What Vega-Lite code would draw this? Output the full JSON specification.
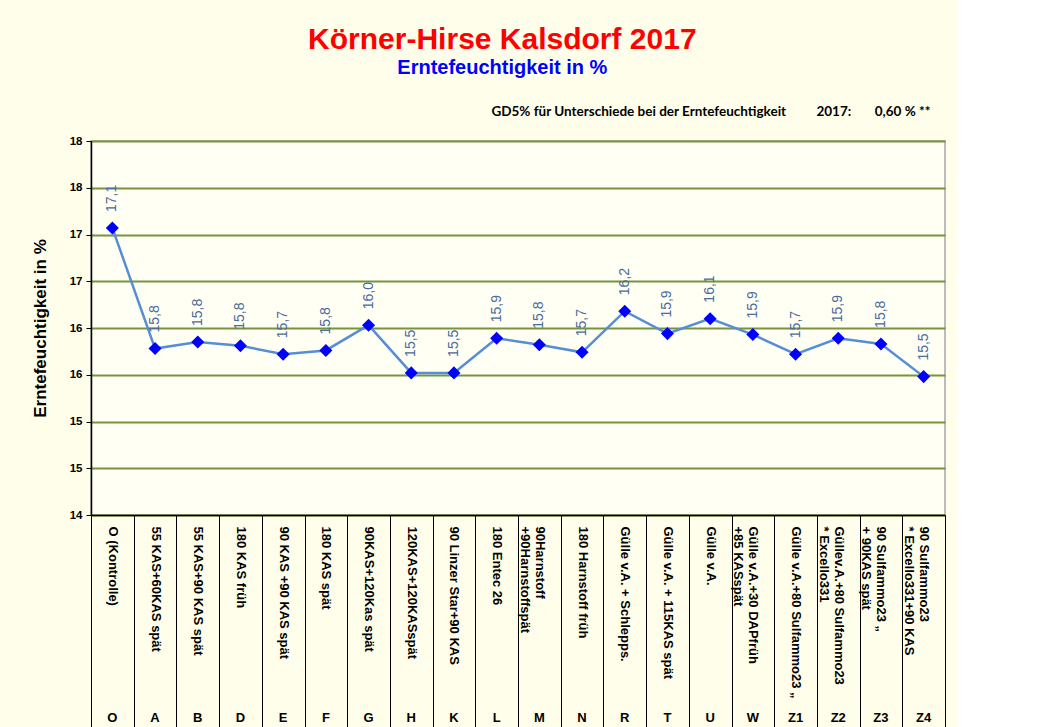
{
  "$schema": "https://vega.github.io/schema/vega-lite/v6.json",
  "background": "#fefeea",
  "padding": {"left": 30, "top": 24, "right": 10, "bottom": 0},
  "title": {
    "text": "Körner-Hirse Kalsdorf 2017",
    "subtitle": "Erntefeuchtigkeit in %",
    "color": "#ff0000",
    "subtitleColor": "#0000ff",
    "font": "Liberation Sans",
    "subtitleFont": "Liberation Sans",
    "fontSize": 30,
    "subtitleFontSize": 20,
    "fontWeight": "bold",
    "subtitleFontWeight": "bold",
    "anchor": "middle",
    "subtitlePadding": 3,
    "offset": 26,
    "dx": 14
  },
  "vconcat": [
    {
      "width": 854,
      "height": 374,
      "title": {
        "text": "GD5% für Unterschiede bei der Erntefeuchtigkeit\u2002\u2002\u2002\u2002 2017:\u2002\u2002\u2002 0,60 % **",
        "anchor": "end",
        "font": "Lato",
        "fontSize": 13.5,
        "fontWeight": "bold",
        "color": "#000000",
        "dx": -15,
        "offset": 17
      },
      "data": {
        "values": [
          {"code": "O", "name": "O (Kontrolle)", "value": 17.07},
          {"code": "A", "name": "55 KAS+60KAS spät", "value": 15.78},
          {"code": "B", "name": "55 KAS+90 KAS spät", "value": 15.85},
          {"code": "D", "name": "180 KAS früh", "value": 15.81},
          {"code": "E", "name": "90 KAS +90 KAS spät", "value": 15.72},
          {"code": "F", "name": "180 KAS spät", "value": 15.76},
          {"code": "G", "name": "90KAS+120Kas spät", "value": 16.03},
          {"code": "H", "name": "120KAS+120KASspät", "value": 15.52},
          {"code": "K", "name": "90 Linzer Star+90 KAS", "value": 15.52},
          {"code": "L", "name": "180 Entec 26", "value": 15.89},
          {"code": "M", "name": "\u00a0\u00a0\u00a0\u00a0\u00a0\u00a090Harnstoff\n+90Harnstoffspät", "value": 15.82},
          {"code": "N", "name": "180 Harnstoff früh", "value": 15.74},
          {"code": "R", "name": "Gülle v.A. + Schlepps.", "value": 16.18},
          {"code": "T", "name": "Gülle v.A. + 115KAS spät", "value": 15.94},
          {"code": "U", "name": "Gülle v.A.", "value": 16.1},
          {"code": "W", "name": "Gülle v.A.+30 DAPfrüh\n+85 KASspät", "value": 15.93},
          {"code": "Z1", "name": "Gülle v.A.+80 Sulfammo23 „", "value": 15.72},
          {"code": "Z2", "name": "Güllev.A.+80 Sulfammo23\n* Excello331", "value": 15.89},
          {"code": "Z3", "name": "90 Sulfammo23 „\n+ 90KAS spät", "value": 15.83},
          {"code": "Z4", "name": "\u00a0\u00a0\u00a0\u00a0\u00a0\u00a090 Sulfammo23\n* Excello331+90 KAS", "value": 15.48}
        ]
      },
      "resolve": {"scale": {"x": "independent"}, "axis": {"x": "independent"}},
      "layer": [
        {
          "mark": {"type": "line", "color": "#558ed5", "strokeWidth": 2.5},
          "encoding": {
            "x": {
              "field": "name",
              "type": "nominal",
              "sort": null,
              "bandPosition": 0.5,
              "scale": {"type": "band", "paddingInner": 0, "paddingOuter": 0},
              "axis": {
                "title": null,
                "orient": "bottom",
                "labelAngle": 90,
                "labelAlign": "left",
                "labelBaseline": "middle",
                "labelFont": "Liberation Sans",
                "labelFontSize": 13,
                "labelFontWeight": "bold",
                "labelColor": "#000000",
                "labelExpr": "split(datum.label, '\\n')",
                "labelLineHeight": 15,
                "labelLimit": 400,
                "labelOverlap": false,
                "tickBand": "extent",
                "tickSize": 215,
                "tickColor": "#000000",
                "tickWidth": 1,
                "labelPadding": -204,
                "domainColor": "#000000",
                "domainWidth": 1.5,
                "grid": false
              }
            },
            "y": {
              "field": "value",
              "type": "quantitative",
              "scale": {"domain": [14, 18], "nice": false, "zero": false},
              "axis": {
                "title": "Erntefeuchtigkeit in %",
                "titleFont": "Liberation Sans",
                "titleFontSize": 17,
                "titleFontWeight": "bold",
                "titleColor": "#000000",
                "titlePadding": 20,
                "values": [14, 14.5, 15, 15.5, 16, 16.5, 17, 17.5, 18],
                "format": ".0f",
                "labelFont": "Liberation Sans",
                "labelFontSize": 11.5,
                "labelFontWeight": "bold",
                "labelColor": "#000000",
                "labelPadding": 4,
                "tickColor": "#000000",
                "tickSize": 5,
                "domainColor": "#000000",
                "domainWidth": 1.5,
                "grid": true,
                "gridColor": "#77933c",
                "gridWidth": 2
              }
            }
          }
        },
        {
          "encoding": {
            "x": {
              "field": "code",
              "type": "nominal",
              "sort": null,
              "bandPosition": 0.5,
              "scale": {"type": "band", "paddingInner": 0, "paddingOuter": 0},
              "axis": {
                "title": null,
                "orient": "bottom",
                "offset": 194,
                "domain": false,
                "ticks": false,
                "grid": false,
                "labelAngle": 0,
                "labelAlign": "center",
                "labelBaseline": "top",
                "labelFont": "Liberation Sans",
                "labelFontSize": 13,
                "labelFontWeight": "bold",
                "labelColor": "#000000",
                "labelPadding": 2
              }
            },
            "y": {"field": "value", "type": "quantitative"}
          },
          "layer": [
            {
              "mark": {"type": "point", "shape": "diamond", "filled": true, "color": "#0000ff", "size": 170, "opacity": 1}
            },
            {
              "mark": {"type": "text", "angle": 270, "align": "left", "baseline": "middle", "dx": 16, "font": "Liberation Sans", "fontSize": 14, "color": "#4a6b9c"},
              "encoding": {"text": {"field": "value", "type": "quantitative", "format": ".1f"}}
            }
          ]
        }
      ]
    }
  ],
  "config": {
    "locale": {"number": {"decimal": ",", "thousands": ".", "grouping": [3], "currency": ["", " €"]}},
    "view": {"fill": "#fffff4", "stroke": "#a6a6a6", "strokeWidth": 1.5},
    "font": "Liberation Sans"
  }
}
